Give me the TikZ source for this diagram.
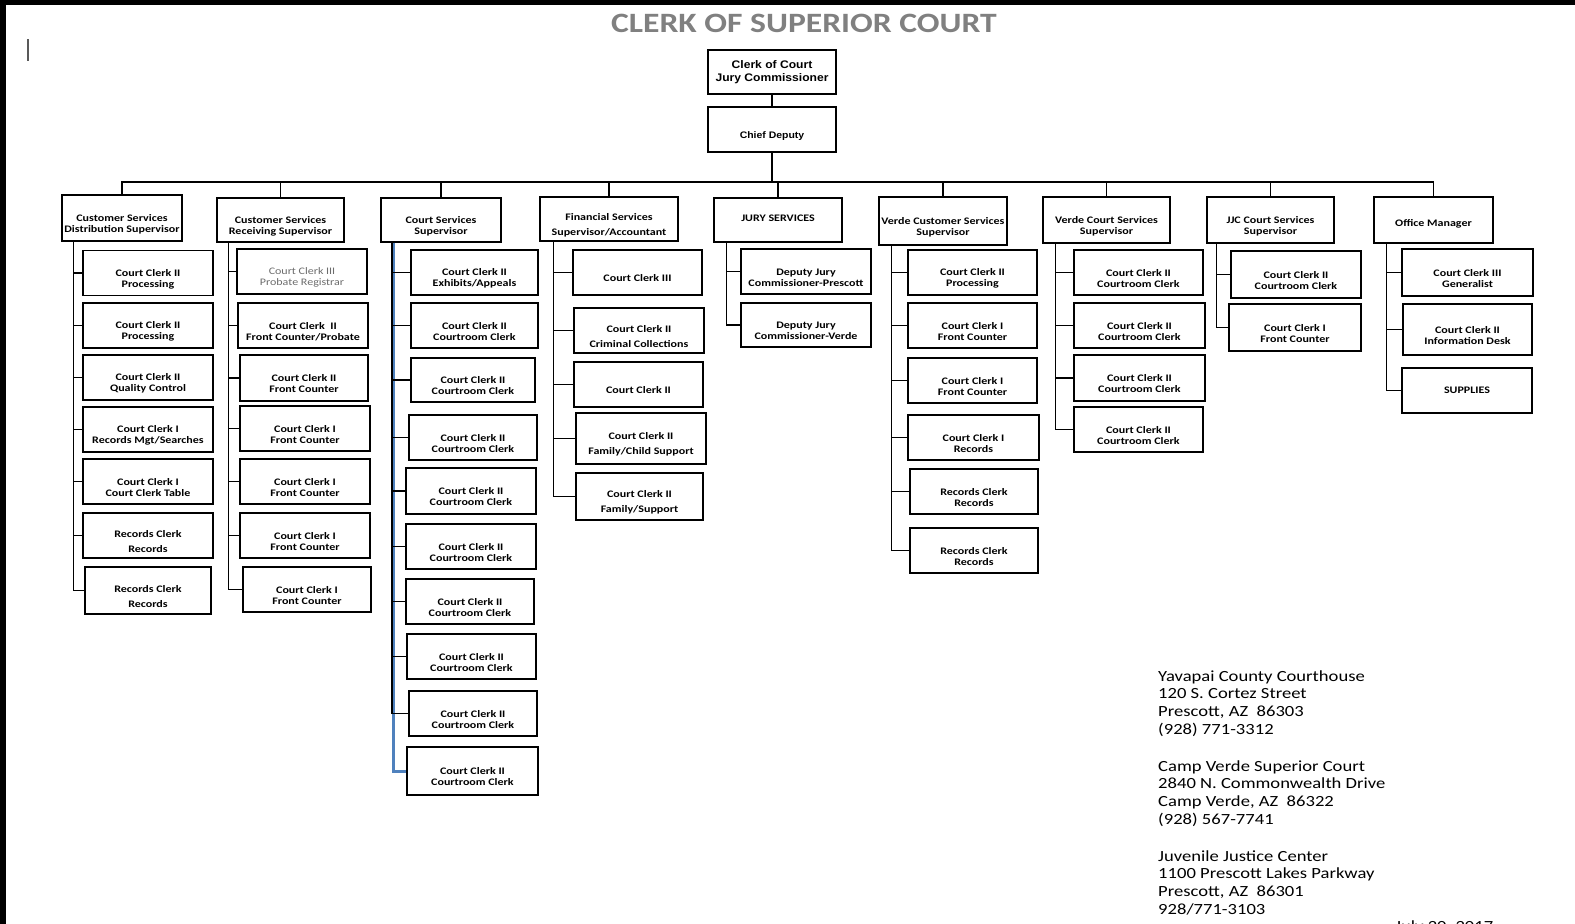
\documentclass[tikz,border=0pt]{standalone}
\usepackage{fontspec}
\setmainfont{Carlito}[FakeStretch=1.2]
\newfontfamily\arialfam{Liberation Sans}[FakeStretch=1.1]
\newcommand\orgcell{\fontsize{10}{11}\selectfont\bfseries}
\newcommand\orglight{\fontsize{10}{11}\selectfont}
\newcommand\orghead{\arialfam\fontsize{11}{13}\selectfont\bfseries}
\newcommand\orgdeputy{\arialfam\fontsize{9.5}{11}\selectfont\bfseries}
\newcommand\orgtitle{\fontsize{28}{30}\selectfont\bfseries}
\newcommand\orgaddr{\fontsize{15.5}{18}\selectfont}
\definecolor{titlegray}{RGB}{128,128,128}
\definecolor{spineblue}{RGB}{79,129,189}
\begin{document}
\begin{tikzpicture}[x=1pt, y=-1pt,
    frame/.style={draw, line width=1.1pt, align=center, inner sep=0.5pt,
      minimum width=129pt, minimum height=45pt, font=\orgcell},
    box/.style={frame, text height=30pt},
    single/.style={text height=19pt},
    spread/.style={text height=34pt},
    link/.style={line width=1.1pt},
    addr/.style={anchor=base west, inner sep=0pt, font=\orgaddr}]
  \useasboundingbox (0,0) rectangle (1575,924);
  \fill[white] (0,0) rectangle (1575,924);
  \fill[black] (0,0) rectangle (1575,5);
  \fill[black] (0,0) rectangle (6,924);
  \draw[gray!70!black, line width=1.2pt] (28,39) -- (28,61);

  \node[font=\orgtitle, text=titlegray] (title) at (804,23) {CLERK OF SUPERIOR COURT};

  % head
  \node[frame, font=\orghead, minimum width=128pt, minimum height=44pt] (clerk) at (772,72) {Clerk of Court\\Jury Commissioner};
  \node[box, single, font=\orgdeputy, minimum width=128pt, minimum height=45pt] (deputy) at (772,129.5) {Chief Deputy};
  \coordinate (bus) at (772,182);

  % supervisors
  \node[box, minimum width=120pt, minimum height=46pt] (s1) at (122,218) {Customer Services\\Distribution Supervisor};
  \node[box, minimum width=127pt, minimum height=44pt] (s2) at (280.5,220) {Customer Services\\Receiving Supervisor};
  \node[box, minimum width=120pt, minimum height=44pt] (s3) at (441,220) {Court Services\\Supervisor};
  \node[box, spread, minimum width=138pt, minimum height=44pt] (s4) at (609,219) {Financial Services\\[4pt]Supervisor/Accountant};
  \node[frame, minimum width=128pt, minimum height=44pt] (s5) at (778,220) {\raisebox{4pt}{JURY SERVICES}};
  \node[box, minimum width=128pt, minimum height=48pt] (s6) at (943,221) {Verde Customer Services\\Supervisor};
  \node[box, minimum width=127pt, minimum height=46pt] (s7) at (1106.5,220) {Verde Court Services\\Supervisor};
  \node[box, minimum width=127pt, minimum height=46pt] (s8) at (1270.5,220) {JJC Court Services\\Supervisor};
  \node[box, text height=15pt, minimum width=119pt, minimum height=46pt] (s9) at (1433.5,220) {Office Manager};

  % distribution
  \node[box, minimum width=130pt] (a1) at (148,273) {Court Clerk II\\Processing};
  \node[box, minimum width=130pt] (a2) at (148,325.5) {Court Clerk II\\Processing};
  \node[box, minimum width=130pt] (a3) at (148,377.5) {Court Clerk II\\Quality Control};
  \node[box, minimum width=130pt] (a4) at (148,429.5) {Court Clerk I\\Records Mgt/Searches};
  \node[box, minimum width=130pt] (a5) at (148,481.5) {Court Clerk I\\Court Clerk Table};
  \node[box, spread, minimum width=130pt] (a6) at (148,535.5) {Records Clerk\\[4pt]Records};
  \node[box, spread, minimum width=126pt, minimum height=47pt] (a7) at (148,590.5) {Records Clerk\\[4pt]Records};

  % receiving
  \node[box, minimum width=130pt, font=\orglight, text=gray!85!black] (b1) at (302,271.5) {Court Clerk III\\Probate Registrar};
  \node[box, minimum width=130pt] (b2) at (303,325.5) {Court Clerk\ \ II\\Front Counter/Probate};
  \node[box, minimum width=128pt, minimum height=46pt] (b3) at (304,378) {Court Clerk II\\Front Counter};
  \node[box, minimum width=130pt] (b4) at (305,428.5) {Court Clerk I\\Front Counter};
  \node[box, minimum width=130pt] (b5) at (305,481.5) {Court Clerk I\\Front Counter};
  \node[box, minimum width=130pt] (b6) at (305,535.5) {Court Clerk I\\Front Counter};
  \node[box, minimum width=128pt] (b7) at (307,589.5) {Court Clerk I\\Front Counter};

  % court services
  \node[box, minimum width=127pt] (c1) at (474.5,272.5) {Court Clerk II\\Exhibits/Appeals};
  \node[box, minimum width=127pt] (c2) at (474.5,325.5) {Court Clerk II\\Courtroom Clerk};
  \node[box, minimum width=124pt, minimum height=44pt] (c3) at (473,380) {Court Clerk II\\Courtroom Clerk};
  \node[box, minimum width=128pt] (c4) at (473,437.5) {Court Clerk II\\Courtroom Clerk};
  \node[box, minimum width=130pt, minimum height=46pt] (c5) at (471,491) {Court Clerk II\\Courtroom Clerk};
  \node[box, minimum width=130pt] (c6) at (471,546.5) {Court Clerk II\\Courtroom Clerk};
  \node[box, minimum width=128pt] (c7) at (470,601.5) {Court Clerk II\\Courtroom Clerk};
  \node[box] (c8) at (471.5,656.5) {Court Clerk II\\Courtroom Clerk};
  \node[box, minimum width=128pt] (c9) at (473,713.5) {Court Clerk II\\Courtroom Clerk};
  \node[box, minimum width=131pt, minimum height=48pt] (c10) at (472.5,771) {Court Clerk II\\Courtroom Clerk};

  % financial
  \node[box, single] (d1) at (637.5,272.5) {Court Clerk III};
  \node[box, spread, minimum width=130pt] (d2) at (639,330.5) {Court Clerk II\\[4pt]Criminal Collections};
  \node[box, single] (d3) at (638.5,384.5) {Court Clerk II};
  \node[box, spread, minimum width=130pt, minimum height=51pt] (d4) at (641,438.5) {Court Clerk II\\[4pt]Family/Child Support};
  \node[box, spread, minimum width=127pt, minimum height=47pt] (d5) at (639.5,496.5) {Court Clerk II\\[4pt]Family/Support};

  % jury
  \node[box, minimum width=130pt] (e1) at (806,271.5) {Deputy Jury\\Commissioner-Prescott};
  \node[box, minimum width=130pt, minimum height=44pt] (e2) at (806,325) {Deputy Jury\\Commissioner-Verde};

  % verde customer
  \node[box] (f1) at (972.5,272.5) {Court Clerk II\\Processing};
  \node[box] (f2) at (972.5,325.5) {Court Clerk I\\Front Counter};
  \node[box] (f3) at (972.5,380.5) {Court Clerk I\\Front Counter};
  \node[box, minimum width=131pt] (f4) at (973.5,437.5) {Court Clerk I\\Records};
  \node[box, minimum width=128pt] (f5) at (974,491.5) {Records Clerk\\Records};
  \node[box, minimum width=128pt] (f6) at (974,550.5) {Records Clerk\\Records};

  % verde court
  \node[box] (g1) at (1138.5,272.5) {Court Clerk II\\Courtroom Clerk};
  \node[box, minimum width=131pt] (g2) at (1139.5,325.5) {Court Clerk II\\Courtroom Clerk};
  \node[box, minimum width=131pt, minimum height=46pt] (g3) at (1139.5,378) {Court Clerk II\\Courtroom Clerk};
  \node[box] (g4) at (1138.5,429.5) {Court Clerk II\\Courtroom Clerk};

  % jjc
  \node[box, minimum width=130pt, minimum height=47pt] (h1) at (1296,274.5) {Court Clerk II\\Courtroom Clerk};
  \node[box, minimum width=132pt, minimum height=47pt] (h2) at (1295,327.5) {Court Clerk I\\Front Counter};

  % office
  \node[box, minimum width=131pt, minimum height=47pt] (i1) at (1467.5,272.5) {Court Clerk III\\Generalist};
  \node[box, minimum width=129pt, minimum height=51pt] (i2) at (1467.5,329.5) {Court Clerk II\\Information Desk};
  \node[frame, minimum width=130pt] (i3) at (1467,390.5) {SUPPLIES};

  % lines
  \draw[link] (clerk) -- (deputy);
  \draw[line width=2.5pt] (deputy) -- (bus);
  \foreach \i in {1,...,9}
    \draw[line width=1.5pt] (s\i.north) |- (bus);
  \foreach \i in {1,...,7}
    \draw[link] ([xshift=12pt]s1.south west) |- (a\i.west);
  \foreach \i in {1,...,7}
    \draw[link] ([xshift=12pt]s2.south west) |- (b\i.west);
  \draw[spineblue, line width=3pt] ([xshift=13pt]s3.south west) |- (c10.west);
  \draw[line width=2pt] ([xshift=11.5pt]s3.south west) -- ([xshift=11.5pt]s3.south west |- c9.west);
  \foreach \i in {1,...,9}
    \draw[link] ([xshift=12pt]s3.south west) |- (c\i.west);
  \foreach \i in {1,...,5}
    \draw[link] ([xshift=14pt]s4.south west) |- (d\i.west);
  \foreach \i in {1,2}
    \draw[link] ([xshift=13pt]s5.south west) |- (e\i.west);
  \foreach \i in {1,...,6}
    \draw[link] ([xshift=13pt]s6.south west) |- (f\i.west);
  \foreach \i in {1,...,4}
    \draw[link] ([xshift=13pt]s7.south west) |- (g\i.west);
  \foreach \i in {1,2}
    \draw[link] ([xshift=10pt]s8.south west) |- (h\i.west);
  \foreach \i in {1,...,3}
    \draw[link] ([xshift=13pt]s9.south west) |- (i\i.west);

  % addresses
  \foreach \t [count=\i from 0] in {Yavapai County Courthouse, 120 S. Cortez Street, {Prescott, AZ\ \ 86303}, {(928) 771-3312}}
    \node[addr] (yc\i) at (1158,681+17.8*\i) {\t};
  \foreach \t [count=\i from 0] in {Camp Verde Superior Court, 2840 N. Commonwealth Drive, {Camp Verde, AZ\ \ 86322}, {(928) 567-7741}}
    \node[addr] (cv\i) at (1158,771+17.8*\i) {\t};
  \foreach \t [count=\i from 0] in {Juvenile Justice Center, 1100 Prescott Lakes Parkway, {Prescott, AZ\ \ 86301}, 928/771-3103}
    \node[addr] (jj\i) at (1158,861+17.8*\i) {\t};
  \node[addr] (date) at (1395,931) {July 20, 2017};
\end{tikzpicture}
\end{document}
